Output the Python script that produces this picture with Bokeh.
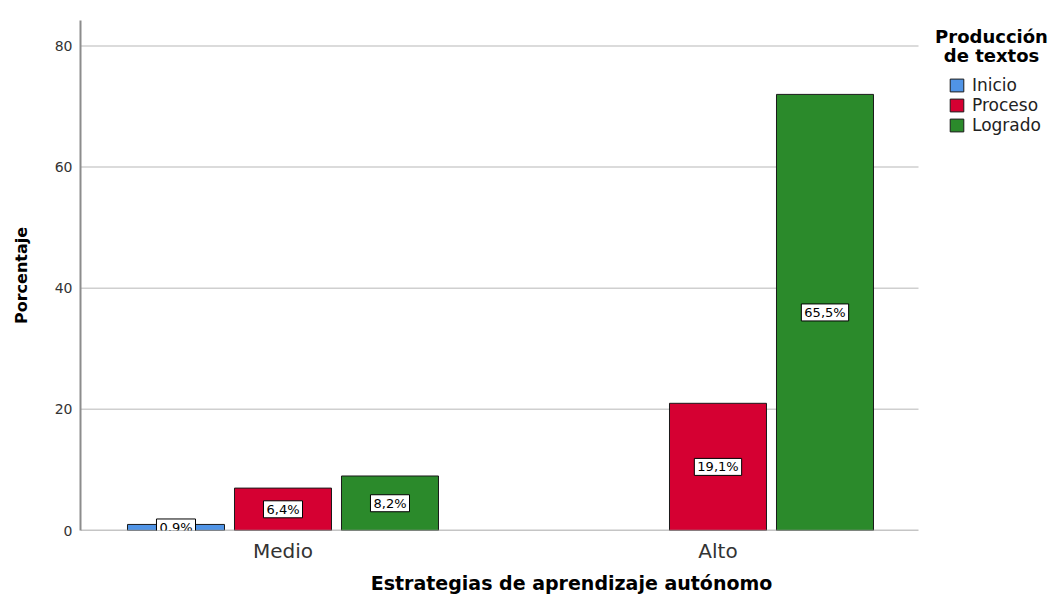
from bokeh.plotting import figure
from bokeh.models import Range1d, FixedTicker, Legend, LegendItem, Label, Title
from bokeh.embed import file_html
from bokeh.resources import INLINE

# ---- data ----
categories = ["Medio", "Alto"]
series = ["Inicio", "Proceso", "Logrado"]
inicio = [1, 0]
proceso = [7, 21]
logrado = [9, 72]
y_ticks = [0, 20, 40, 60, 80]
colors = ["#5094E6", "#D50032", "#2B8A2B"]

values = [inicio, proceso, logrado]
total = sum(sum(v) for v in values)

FONT = "DejaVu Sans"
W, H = 1064, 597
LEFT, RIGHT_AX, RIGHT_FR = 80, 918, 1062   # page px
TOP, BOTTOM = 20, 530
X0 = -0.4655
PX_PER_X = 435.0
X_AX = X0 + (RIGHT_AX - LEFT) / PX_PER_X
X1 = X0 + (RIGHT_FR - LEFT) / PX_PER_X
Y1 = 84.2
PX_PER_Y = (BOTTOM - TOP) / Y1
step = 107 / PX_PER_X
bw = 97 / PX_PER_X

p = figure(width=W, height=H, output_backend="svg", toolbar_location=None,
           x_range=Range1d(X0, X1), y_range=Range1d(0, Y1),
           min_border_left=LEFT, min_border_right=W - RIGHT_FR,
           min_border_top=TOP, min_border_bottom=H - BOTTOM)
p.outline_line_color = None
p.background_fill_color = "white"
p.border_fill_color = "white"
p.xgrid.grid_line_color = None
p.ygrid.grid_line_color = None

# grid lines limited to the plotting area (as in the reference)
gy = [t for t in y_ticks if t > 0]
p.segment(x0=[X0] * len(gy), x1=[X_AX] * len(gy), y0=gy, y1=gy,
          line_color="#cfcfcf", line_width=1.5)

items = []
for si, (name, vals, col) in enumerate(zip(series, values, colors)):
    xs = [gi + (si - 1) * step for gi, v in enumerate(vals) if v > 0]
    tops = [v for v in vals if v > 0]
    r = p.vbar(x=xs, top=tops, bottom=0, width=bw, fill_color=col,
               line_color="#1a1a1a", line_width=1)
    items.append(LegendItem(label=name, renderers=[r]))
    for x, t in zip(xs, tops):
        pct = t / total * 100
        txt = f"{pct:.1f}".replace(".", ",") + "%"
        p.add_layout(Label(x=x, y=t / 2, text=txt, text_align="center",
                           text_baseline="middle", text_font=FONT,
                           text_font_size="13px", text_color="black",
                           background_fill_color="white",
                           border_line_color="black", border_line_width=1,
                           padding=(3, 1)))

# baseline (x axis line) limited to plotting area
p.segment(x0=[X0], x1=[X_AX], y0=[0], y1=[0], line_color="#8c8c8c",
          line_width=1.5)

# axes
xa = p.xaxis[0]
xa.ticker = FixedTicker(ticks=list(range(len(categories))))
xa.major_label_overrides = {i: c for i, c in enumerate(categories)}
xa.major_label_text_font = FONT
xa.major_label_text_font_size = "20px"
xa.major_label_text_color = "#333333"
xa.major_label_standoff = 8
xa.major_tick_out = 0
xa.major_tick_in = 0
xa.minor_tick_out = 0
xa.minor_tick_in = 0
xa.axis_line_color = None

frame_center = (LEFT + RIGHT_FR) / 2
ax_center = (LEFT + RIGHT_AX) / 2
xtitle = Title(text="Estrategias de aprendizaje autónomo", align="center",
               offset=ax_center - frame_center, text_font=FONT,
               text_font_style="bold", text_font_size="19px",
               text_color="black", standoff=8)
p.add_layout(xtitle, "below")

ya = p.yaxis[0]
ya.ticker = FixedTicker(ticks=y_ticks)
ya.major_label_text_font = FONT
ya.major_label_text_font_size = "14px"
ya.major_label_text_color = "#333333"
ya.major_label_standoff = 8
ya.major_tick_out = 0
ya.major_tick_in = 0
ya.minor_tick_out = 0
ya.minor_tick_in = 0
ya.axis_line_color = "#8c8c8c"
ya.axis_line_width = 2
ya.axis_label = "Porcentaje"
ya.axis_label_text_font = FONT
ya.axis_label_text_font_style = "bold"
ya.axis_label_text_font_size = "16px"
ya.axis_label_text_color = "black"
ya.axis_label_standoff = 21

# legend (inside the wide frame, to the right of the plotting area)
legend = Legend(items=items, location=(948 - LEFT, BOTTOM - 135),
                orientation="vertical",
                glyph_width=17, glyph_height=16, label_height=20, spacing=0,
                padding=0, margin=0, label_standoff=7,
                border_line_color=None, background_fill_alpha=0,
                label_text_font=FONT, label_text_font_size="17px",
                label_text_color="#222222")
p.add_layout(legend)

# legend title, centred
tx = X0 + (991 - LEFT) / PX_PER_X
for txt, base_px in [("Producción", 36), ("de textos", 55)]:
    p.add_layout(Label(x=tx, y=(BOTTOM - base_px) / PX_PER_Y, text=txt,
                       text_align="center", text_baseline="alphabetic",
                       text_font=FONT, text_font_style="bold",
                       text_font_size="18px", text_color="black"))

open("out.html", "w").write(file_html(p, INLINE))
